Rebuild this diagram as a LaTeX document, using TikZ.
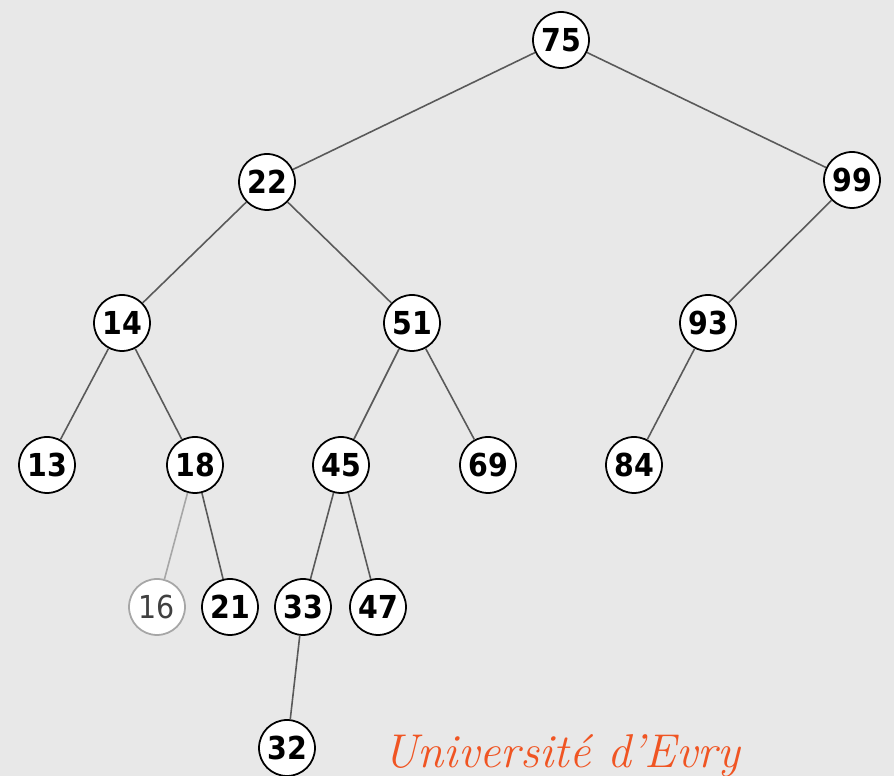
\documentclass[tikz,border=0pt]{standalone}
\usepackage{fontspec}
\newfontfamily\keyfont{DejaVu Sans Condensed}
\usetikzlibrary{positioning}
\definecolor{paper}{RGB}{232,232,232}
\definecolor{evry}{RGB}{240,85,35}
\tikzset{
  key/.style={circle, draw=black, line width=1pt, fill=white, minimum size=1.12cm, inner sep=0pt,
    font=\keyfont\bfseries\fontsize{18}{20}\selectfont},
  faded/.style={draw=black!35, text=black!75, font=\keyfont\fontsize{18}{20}\selectfont},
  branch/.style={draw=black!65, line width=0.9pt}
}

\begin{document}
\begin{tikzpicture}[x=0.02cm, y=-0.02cm]
  \fill[paper] (0,0) rectangle (894,776);
  \useasboundingbox (0,0) rectangle (894,776);

  % keys of the tree
  \foreach \k/\x/\y in {75/561/40, 22/267/182, 99/852/180,
                        14/122/323, 51/412/323, 93/708/323,
                        13/47/465, 18/195/465, 45/341/465, 69/488/465, 84/634/465,
                        21/230/607, 33/303/607, 47/378/607,
                        32/287/748}
    \node[key] (n\k) at (\x,\y) {\k};
  \node[key, faded] (n16) at (157,607) {16};

  % branches
  \foreach \p/\c in {75/22, 75/99, 22/14, 22/51, 99/93,
                     14/13, 14/18, 51/45, 51/69, 93/84,
                     18/21, 45/33, 45/47, 33/32}
    \draw[branch] (n\p) -- (n\c);
  \draw[branch, draw=black!35] (n18) -- (n16);

  \node[anchor=base west, inner sep=0pt, text=evry, font=\rmfamily\itshape\fontsize{27}{30}\selectfont]
    (univ) at (383,768) {Université d’Evry};
\end{tikzpicture}
\end{document}
